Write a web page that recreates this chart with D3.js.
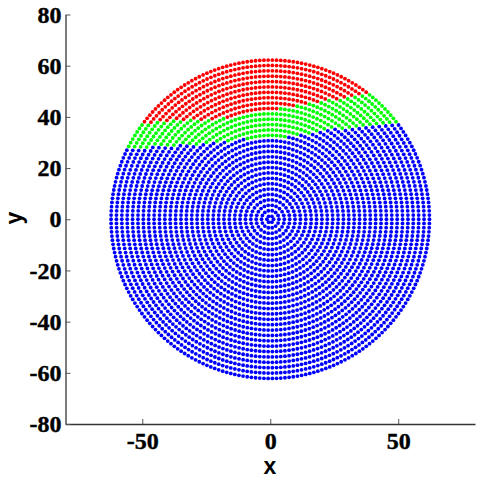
<!DOCTYPE html>
<html>
<head>
<meta charset="utf-8">
<script src="https://d3js.org/d3.v7.min.js"></script>
<style>
  html, body { margin: 0; padding: 0; background: #fff; }
  svg { display: block; }
  .tick text { font-family: "Liberation Serif", serif; font-weight: bold; font-size: 24px; fill: #000; stroke: #000; stroke-width: 0.4px; }
  .axis-title { font-family: "Liberation Sans", sans-serif; font-weight: bold; font-size: 23px; fill: #000; }
</style>
</head>
<body>
<div id="chart"></div>
<script>
// Axis ticks
var xTicks = [-50, 0, 50];
var yTicks = [-80, -60, -40, -20, 0, 20, 40, 60, 80];

// Rings: radius in data units and number of dots
var ringRadius = [1.3, 3.4, 5.5, 7.6, 9.7, 11.8, 13.9, 16.0, 18.1, 20.2,
                  22.3, 24.4, 26.5, 28.6, 30.7, 32.8, 34.9, 37.0, 39.1, 41.2,
                  43.3, 45.4, 47.5, 49.6, 51.7, 53.8, 55.9, 58.0, 60.1, 62.2];
var ringCount = [6, 14, 22, 30, 38, 46, 54, 62, 70, 78,
                 86, 94, 102, 110, 118, 126, 134, 142, 150, 158,
                 166, 174, 182, 190, 198, 206, 214, 222, 230, 238];

// Class boundaries
var redGreenX = [-50, -35, -18, 0, 5, 20, 30, 38];
var redGreenY = [37.7, 38.5, 39.6, 42, 43.6, 45.9, 47.9, 49.4];
var greenBlueX = [-56, -43, -30, -13, 0, 5, 13, 23, 39, 48];
var greenBlueY = [28, 28.3, 29.1, 31, 32.2, 32.2, 33, 35, 36, 37];

var classColors = ["#ff0000", "#00ff00", "#0000ff"];

var width = 480, height = 480;

var x = d3.scaleLinear().domain([-80, 80]).range([65.5, 475]);
var y = d3.scaleLinear().domain([-80, 80]).range([424, 14.5]);

var redGreen = d3.scaleLinear().domain(redGreenX).range(redGreenY);
var greenBlue = d3.scaleLinear().domain(greenBlueX).range(greenBlueY);

var svg = d3.select("#chart").append("svg")
    .attr("width", width)
    .attr("height", height);

// Dots, ring by ring
var dots = [];
ringRadius.forEach(function(r, i) {
  d3.range(ringCount[i]).forEach(function(k) {
    var a = 2 * Math.PI * k / ringCount[i];
    var px = r * Math.cos(a), py = r * Math.sin(a);
    var cls = 2;
    if (py > redGreen(px)) cls = 0;
    else if (py > greenBlue(px)) cls = 1;
    dots.push({x: px, y: py, cls: cls});
  });
});

svg.append("g").selectAll("circle")
    .data(dots)
  .enter().append("circle")
    .attr("cx", function(d) { return x(d.x); })
    .attr("cy", function(d) { return y(d.y); })
    .attr("r", 1.9)
    .attr("fill", function(d) { return classColors[d.cls]; });

// Axes, ticks point inward
var xAxis = d3.axisBottom(x)
    .tickValues(xTicks)
    .tickFormat(String)
    .tickSizeInner(-5)
    .tickSizeOuter(0)
    .tickPadding(8);

var yAxis = d3.axisLeft(y)
    .tickValues(yTicks)
    .tickFormat(String)
    .tickSizeInner(-5)
    .tickSizeOuter(0)
    .tickPadding(4);

var gx = svg.append("g")
    .attr("transform", "translate(0,424)")
    .call(xAxis);

var gy = svg.append("g")
    .attr("transform", "translate(65.5,0)")
    .call(yAxis);

[gx, gy].forEach(function(g) {
  g.select(".domain").attr("stroke", "#333").attr("stroke-width", 1.3);
  g.selectAll(".tick line").attr("stroke", "#555");
});

svg.append("text")
    .attr("class", "axis-title")
    .attr("x", 270)
    .attr("y", 474)
    .attr("text-anchor", "middle")
    .text("x");

svg.append("text")
    .attr("class", "axis-title")
    .attr("transform", "translate(21.5,218) rotate(-90)")
    .attr("text-anchor", "middle")
    .text("y");
</script>
</body>
</html>
